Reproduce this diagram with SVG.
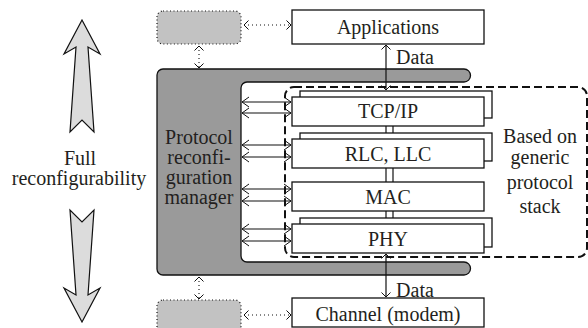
<svg xmlns="http://www.w3.org/2000/svg" width="588" height="328" viewBox="0 0 588 328">
<defs>
<marker id="ch" viewBox="-6 -6 8 12" markerWidth="8" markerHeight="12" refX="0" refY="0" orient="auto-start-reverse" markerUnits="userSpaceOnUse"><path d="M-4.5,-4.5 L0,0 L-4.5,4.5" fill="none" stroke="#111" stroke-width="1"/></marker>
<marker id="chl" viewBox="-9 -7 10 14" markerWidth="10" markerHeight="14" refX="0" refY="0" orient="auto-start-reverse" markerUnits="userSpaceOnUse"><path d="M-7,-5 L0,0 L-7,5" fill="none" stroke="#111" stroke-width="1"/></marker>
</defs>
<style>
text{font-family:'Liberation Serif','DejaVu Serif',serif;font-size:20px;fill:#231f20;text-anchor:middle}
.box{fill:#fff;stroke:#111;stroke-width:1.3}
.ghost{fill:#c2c2c2;stroke:#111;stroke-width:1.2;stroke-dasharray:1 2.5}
.dot{fill:none;stroke:#111;stroke-width:1.1;stroke-dasharray:1 3}
.ln{fill:none;stroke:#111;stroke-width:1.2}
.big{fill:#dcdcdc;stroke:#111;stroke-width:1.2}
</style>
<g font-family="Liberation Serif, DejaVu Serif, serif">
<g id="reconfig-arrows">
<polygon class="big" points="82,20 100,54 88,47 94,132 82,120 70,132 76,47 64,54"/>
<polygon class="big" points="82,322 100,288 88,295 94,210 82,222 70,210 76,295 64,288"/>
<text x="80" y="165">Full</text>
<text x="79" y="185">reconfigurability</text>
</g>
<g id="manager">
<path d="M163,69 H464 A6.5,6.5 0 0 1 464,82 H247 A6,6 0 0 0 241,88 V256 A6,6 0 0 0 247,262 H464 A6.5,6.5 0 0 1 464,275 H163 A6,6 0 0 1 157,269 V75 A6,6 0 0 1 163,69 Z" fill="#9a9a9a" stroke="#111" stroke-width="1.3"/>
<text x="199" y="144">Protocol</text>
<text x="199" y="164">reconfi-</text>
<text x="199" y="184">guration</text>
<text x="199" y="204">manager</text>
</g>
<g id="generic-stack">
<rect x="285" y="87" width="302" height="170" rx="9" fill="none" stroke="#111" stroke-width="2" stroke-dasharray="8 4"/>
<text x="540" y="143">Based on</text>
<text x="540" y="164">generic</text>
<text x="540" y="189">protocol</text>
<text x="540" y="213">stack</text>
</g>
<g id="ghost-top"><rect class="ghost" x="157" y="11" width="84" height="33" rx="6"/></g>
<g id="ghost-bottom"><rect class="ghost" x="157" y="300" width="84" height="33" rx="6"/></g>
<g id="applications"><rect class="box" x="292" y="10" width="192" height="34"/><text x="388" y="34">Applications</text></g>
<g id="channel"><rect class="box" x="292" y="298" width="192" height="29"/><text x="388" y="321">Channel (modem)</text></g>
<g id="connectors">
<line class="ln" x1="386" y1="126" x2="386" y2="139"/><line class="ln" x1="393" y1="126" x2="393" y2="139"/>
<line class="ln" x1="386" y1="168" x2="386" y2="182"/><line class="ln" x1="393" y1="168" x2="393" y2="182"/>
<line class="ln" x1="386" y1="211" x2="386" y2="224"/><line class="ln" x1="393" y1="211" x2="393" y2="224"/>
<line class="dot" x1="244" y1="25" x2="291" y2="25" marker-start="url(#ch)" marker-end="url(#ch)"/>
<line class="dot" x1="244" y1="315" x2="291" y2="315" marker-start="url(#ch)" marker-end="url(#ch)"/>
<line class="dot" x1="199" y1="46" x2="199" y2="68" marker-start="url(#ch)" marker-end="url(#ch)"/>
<line class="dot" x1="199" y1="277" x2="199" y2="299" marker-start="url(#ch)" marker-end="url(#ch)"/>
<line class="ln" x1="386" y1="45" x2="386" y2="90" marker-start="url(#ch)" marker-end="url(#ch)"/>
<line class="ln" x1="386" y1="254" x2="386" y2="297" marker-start="url(#ch)" marker-end="url(#ch)"/>
<text x="415" y="64">Data</text>
<text x="415" y="297">Data</text>
<g>
<line class="ln" x1="242" y1="102" x2="291" y2="102" marker-start="url(#chl)" marker-end="url(#chl)"/>
<line class="ln" x1="242" y1="113" x2="291" y2="113" marker-start="url(#chl)" marker-end="url(#chl)"/>
<line class="ln" x1="242" y1="145" x2="291" y2="145" marker-start="url(#chl)" marker-end="url(#chl)"/>
<line class="ln" x1="242" y1="157" x2="291" y2="157" marker-start="url(#chl)" marker-end="url(#chl)"/>
<line class="ln" x1="242" y1="189" x2="291" y2="189" marker-start="url(#chl)" marker-end="url(#chl)"/>
<line class="ln" x1="242" y1="201" x2="291" y2="201" marker-start="url(#chl)" marker-end="url(#chl)"/>
<line class="ln" x1="242" y1="229" x2="291" y2="229" marker-start="url(#chl)" marker-end="url(#chl)"/>
<line class="ln" x1="242" y1="241" x2="291" y2="241" marker-start="url(#chl)" marker-end="url(#chl)"/>
</g>
</g>
<g id="tcp-ip"><rect class="box" x="300" y="91" width="192" height="27"/><rect class="box" x="292" y="97" width="192" height="29"/><text x="388" y="118">TCP/IP</text></g>
<g id="rlc-llc"><rect class="box" x="300" y="133" width="192" height="28"/><rect class="box" x="292" y="139" width="192" height="29"/><text x="388" y="161">RLC, LLC</text></g>
<g id="mac"><rect class="box" x="292" y="182" width="192" height="29"/><text x="388" y="204">MAC</text></g>
<g id="phy"><rect class="box" x="300" y="218" width="192" height="29"/><rect class="box" x="292" y="224" width="192" height="29"/><text x="388" y="246">PHY</text></g>
</g>
</svg>
